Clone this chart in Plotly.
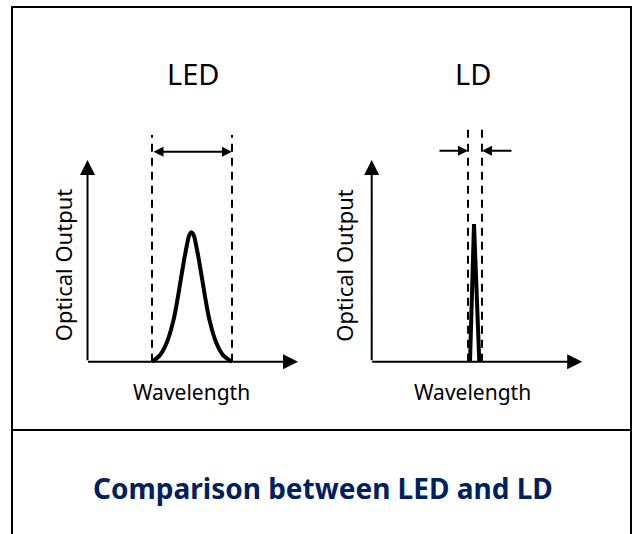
import plotly.graph_objects as go

W, H = 635, 534

# ---- data (arbitrary units: wavelength, optical output) ----
led_wavelength = [6.45, 7.25, 7.9, 8.6, 9.1, 9.6, 9.95, 10.2, 10.4, 10.6, 10.85, 11.2, 11.7, 12.2, 12.9, 13.55, 14.45]
led_output     = [0.0, 0.33, 0.92, 2.08, 3.42, 4.92, 5.85, 6.35, 6.47, 6.35, 5.85, 4.92, 3.42, 2.08, 0.92, 0.33, 0.0]

ld_wavelength = [9.83, 10.23, 10.76]
ld_output     = [0.0, 6.88, 0.0]

led_band = [6.45, 14.45]     # spectral width markers (LED)
ld_band = [9.63, 11.03]      # spectral width markers (LD)
led_band_top = 11.34
ld_band_top = 11.84
led_arrow_y = 10.5
ld_arrow_y = 10.55
ld_arrow_tails = [6.63, 14.13]

axis_x_end = 21.05
axis_y_end = 10.08

panel_titles = ["LED", "LD"]
x_label = "Wavelength"
y_label = "Optical Output"
main_title = "Comparison between LED and LD"

# ---- figure ----
fig = go.Figure()

# pixel -> data mapping: origin of left panel at px (87.5, 361.7), right at (371.7, 361.7)
xs = 10.0  # px per x unit
ys = 20.0  # px per y unit
oy = 361.7
left_ox, right_ox = 87.5, 371.7
yr = [(oy - H) / ys, oy / ys]
x1r = [(0 - left_ox) / xs, (W / 2 - left_ox) / xs]
x2r = [(W / 2 - right_ox) / xs, (W - right_ox) / xs]

fig.add_trace(go.Scatter(x=led_wavelength, y=led_output, mode="lines",
                         line=dict(color="black", width=4, shape="spline", smoothing=1),
                         xaxis="x", yaxis="y", hoverinfo="skip"))
fig.add_trace(go.Scatter(x=ld_wavelength, y=ld_output, mode="lines",
                         line=dict(color="black", width=4),
                         xaxis="x2", yaxis="y2", hoverinfo="skip"))

for xv in led_band:
    fig.add_trace(go.Scatter(x=[xv, xv], y=[0, led_band_top], mode="lines",
                             line=dict(color="black", width=2, dash="8px,6px"),
                             xaxis="x", yaxis="y", hoverinfo="skip"))
for xv in ld_band:
    fig.add_trace(go.Scatter(x=[xv, xv], y=[0, ld_band_top], mode="lines",
                             line=dict(color="black", width=2, dash="8px,6px"),
                             xaxis="x2", yaxis="y2", hoverinfo="skip"))

ann = []
for xr_, yr_ in [("x", "y"), ("x2", "y2")]:
    # y axis with arrow
    ann.append(dict(x=0, y=axis_y_end, ax=0, ay=0, xref=xr_, yref=yr_, axref=xr_, ayref=yr_,
                    showarrow=True, arrowhead=2, arrowsize=1.5, arrowwidth=2, arrowcolor="black",
                    standoff=0, startstandoff=0, text=""))
    # x axis with arrow
    ann.append(dict(x=axis_x_end, y=0, ax=-0.1, ay=0, xref=xr_, yref=yr_, axref=xr_, ayref=yr_,
                    showarrow=True, arrowhead=2, arrowsize=1.5, arrowwidth=2, arrowcolor="black",
                    standoff=0, startstandoff=0, text=""))

# LED double arrow
ann.append(dict(x=led_band[1], y=led_arrow_y, ax=led_band[0], ay=led_arrow_y,
                xref="x", yref="y", axref="x", ayref="y",
                showarrow=True, arrowhead=2, arrowsize=1, arrowwidth=2, arrowside="end+start",
                arrowcolor="black", standoff=0, startstandoff=0, text=""))
# LD inward arrows
ann.append(dict(x=ld_band[0], y=ld_arrow_y, ax=ld_arrow_tails[0], ay=ld_arrow_y,
                xref="x2", yref="y2", axref="x2", ayref="y2",
                showarrow=True, arrowhead=2, arrowsize=1, arrowwidth=2,
                arrowcolor="black", standoff=0, text=""))
ann.append(dict(x=ld_band[1], y=ld_arrow_y, ax=ld_arrow_tails[1], ay=ld_arrow_y,
                xref="x2", yref="y2", axref="x2", ayref="y2",
                showarrow=True, arrowhead=2, arrowsize=1, arrowwidth=2,
                arrowcolor="black", standoff=0, text=""))

font_family = "Noto Sans, Open Sans, sans-serif"
# panel titles
ann.append(dict(x=10.6, y=14.4, xref="x", yref="y", text=panel_titles[0], showarrow=False,
                font=dict(family=font_family, size=29, color="black")))
ann.append(dict(x=10.08, y=14.4, xref="x2", yref="y2", text=panel_titles[1], showarrow=False,
                font=dict(family=font_family, size=29, color="black")))
# axis labels
ann.append(dict(x=10.4, y=-1.5, xref="x", yref="y", text=x_label, showarrow=False,
                font=dict(family=font_family, size=21, color="black")))
ann.append(dict(x=10.1, y=-1.5, xref="x2", yref="y2", text=x_label, showarrow=False,
                font=dict(family=font_family, size=21, color="black")))
ann.append(dict(x=-2.5, y=4.8, xref="x", yref="y", text=y_label, showarrow=False, textangle=-90,
                font=dict(family=font_family, size=22, color="black")))
ann.append(dict(x=-2.77, y=4.8, xref="x2", yref="y2", text=y_label, showarrow=False, textangle=-90,
                font=dict(family=font_family, size=22, color="black")))
# main title
ann.append(dict(x=323 / W, y=1 - 488 / H, xref="paper", yref="paper", xanchor="center", yanchor="middle",
                text="<b>" + main_title + "</b>",
                showarrow=False, font=dict(family=font_family, size=28, color="#002060")))

shapes = [
    dict(type="rect", xref="paper", yref="paper", x0=12 / W, x1=631 / W, y0=-0.2, y1=1 - 7 / H,
         line=dict(color="black", width=2)),
    dict(type="line", xref="paper", yref="paper", x0=12 / W, x1=631 / W, y0=1 - 430 / H, y1=1 - 430 / H,
         line=dict(color="black", width=2)),
]

axis_common = dict(visible=False, showgrid=False, zeroline=False, fixedrange=True)
fig.update_layout(
    width=W, height=H, autosize=False,
    margin=dict(l=0, r=0, t=0, b=0),
    paper_bgcolor="white", plot_bgcolor="rgba(0,0,0,0)",
    showlegend=False,
    xaxis=dict(domain=[0, 0.5], range=x1r, **axis_common),
    yaxis=dict(domain=[0, 1], range=yr, **axis_common),
    xaxis2=dict(domain=[0.5, 1], range=x2r, anchor="y2", **axis_common),
    yaxis2=dict(domain=[0, 1], range=yr, anchor="x2", **axis_common),
    annotations=ann,
    shapes=shapes,
)

fig.write_html("out.html", config={"displayModeBar": False},
               post_script="document.body.style.margin='0';document.body.style.overflow='hidden';")
